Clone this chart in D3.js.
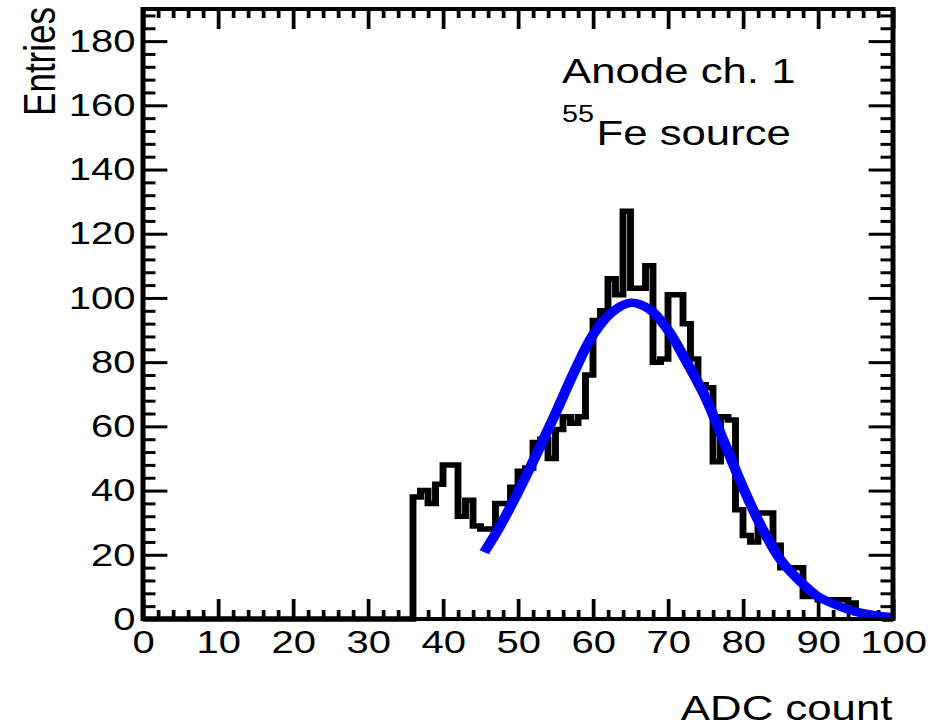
<!DOCTYPE html>
<html>
<head>
<meta charset="utf-8">
<script src="https://cdn.jsdelivr.net/npm/d3@7"></script>
<style>
  body { margin: 0; background: #fff; }
  svg { display: block; }
  text { font-family: "Liberation Sans", Arial, Helvetica, sans-serif; fill: #000; }
</style>
</head>
<body>
<svg id="chart" width="936" height="728"></svg>
<script>
// histogram, 1 ADC count per bin, bins 0..99
var counts = [
  0, 0, 0, 0, 0, 0, 0, 0, 0, 0,
  0, 0, 0, 0, 0, 0, 0, 0, 0, 0,
  0, 0, 0, 0, 0, 0, 0, 0, 0, 0,
  0, 0, 0, 0, 0, 0, 38, 40, 36, 42,
  48, 48, 32, 37, 29, 28, 28, 36, 36, 41,
  46, 47, 55, 56, 50, 59, 63, 61, 63, 76,
  93, 96, 106, 101, 127, 103, 103, 110, 80, 81,
  101, 101, 92, 81, 73, 72, 49, 63, 62, 34,
  26, 24, 33, 33, 23, 16, 16, 16, 7, 7,
  6, 6, 6, 6, 5, 2, 1, 1, 1, 0
];

// fit curve
var fitX = [45.5, 47.5, 50, 52.5, 55, 57.5, 60, 62.5, 65, 67.5, 70, 72.5, 75, 77.5, 80, 82.5, 85, 87.5, 90, 92.5, 95, 97.5, 100];
var fitY = [20.8, 28.5, 39.5, 51.5, 64, 77, 88.5, 95.5, 98.5, 96.5, 90, 80, 69, 55, 41, 28.5, 18.5, 12, 7, 4.3, 2.3, 1.2, 0.6];

var xTicks = [0, 10, 20, 30, 40, 50, 60, 70, 80, 90, 100];
var yTicks = [0, 20, 40, 60, 80, 100, 120, 140, 160, 180];
var xMinor = [2, 4, 6, 8, 12, 14, 16, 18, 22, 24, 26, 28, 32, 34, 36, 38, 42, 44, 46, 48,
              52, 54, 56, 58, 62, 64, 66, 68, 72, 74, 76, 78, 82, 84, 86, 88, 92, 94, 96, 98];
var yMinor = [4, 8, 12, 16, 24, 28, 32, 36, 44, 48, 52, 56, 64, 68, 72, 76, 84, 88, 92, 96,
              104, 108, 112, 116, 124, 128, 132, 136, 144, 148, 152, 156, 164, 168, 172, 176, 184, 188];

var xMin = 0, xMax = 100, yMax = 190;

// the picture is stretched sideways, so draw everything in a squeezed group
var sx = 1.25;
var frameL = 143 / sx, frameR = 893 / sx, frameT = 9, frameB = 619;

var svg = d3.select('#chart');
var g = svg.append('g').attr('transform', 'scale(' + sx + ',1)');

var x = d3.scaleLinear().domain([xMin, xMax]).range([frameL, frameR]);
var y = d3.scaleLinear().domain([0, yMax]).range([frameB, frameT]);

function styleAxis(sel, fontSize) {
  sel.select('.domain').remove();
  sel.selectAll('line').attr('stroke', '#000').attr('stroke-width', 3);
  sel.selectAll('text')
    .attr('font-size', fontSize)
    .attr('font-family', '"Liberation Sans", Arial, Helvetica, sans-serif')
    .attr('fill', '#000');
  sel.attr('font-size', null).attr('font-family', null);
}

// bottom
g.append('g').attr('transform', 'translate(0,' + frameB + ')')
  .call(d3.axisBottom(x).tickValues(xTicks).tickSize(-20).tickPadding(11).tickFormat(d3.format('d')))
  .call(styleAxis, 32);
g.append('g').attr('transform', 'translate(0,' + frameB + ')')
  .call(d3.axisBottom(x).tickValues(xMinor).tickSize(-9).tickFormat(''))
  .call(styleAxis, 0);
// top
g.append('g').attr('transform', 'translate(0,' + frameT + ')')
  .call(d3.axisTop(x).tickValues(xTicks).tickSize(-20).tickFormat(''))
  .call(styleAxis, 0);
g.append('g').attr('transform', 'translate(0,' + frameT + ')')
  .call(d3.axisTop(x).tickValues(xMinor).tickSize(-9).tickFormat(''))
  .call(styleAxis, 0);
// left
g.append('g').attr('transform', 'translate(' + frameL + ',0)')
  .call(d3.axisLeft(y).tickValues(yTicks).tickSize(-19.5).tickPadding(6))
  .call(styleAxis, 32);
g.append('g').attr('transform', 'translate(' + frameL + ',0)')
  .call(d3.axisLeft(y).tickValues(yMinor).tickSize(-10).tickFormat(''))
  .call(styleAxis, 0);
// right
g.append('g').attr('transform', 'translate(' + frameR + ',0)')
  .call(d3.axisRight(y).tickValues(yTicks).tickSize(-19.5).tickFormat(''))
  .call(styleAxis, 0);
g.append('g').attr('transform', 'translate(' + frameR + ',0)')
  .call(d3.axisRight(y).tickValues(yMinor).tickSize(-10).tickFormat(''))
  .call(styleAxis, 0);

// histogram outline
var pts = [[xMin, 0]];
counts.forEach(function(c, i) {
  pts.push([i, c]);
  pts.push([i + 1, c]);
});
pts.push([xMax, 0]);

var histLine = d3.line()
  .x(function(d) { return x(d[0]); })
  .y(function(d) { return y(d[1]); });

g.append('path')
  .datum(pts)
  .attr('d', histLine)
  .attr('fill', 'none')
  .attr('stroke', '#000')
  .attr('stroke-width', 5.5)
  .attr('stroke-linejoin', 'miter');

// fit
var fitPts = fitX.map(function(v, i) { return [v, fitY[i]]; });
g.append('path')
  .datum(fitPts)
  .attr('d', d3.line()
    .curve(d3.curveCatmullRom)
    .x(function(d) { return x(d[0]); })
    .y(function(d) { return y(d[1]); }))
  .attr('fill', 'none')
  .attr('stroke', '#0000ff')
  .attr('stroke-width', 8.5);

// frame
g.append('rect')
  .attr('x', frameL).attr('y', frameT)
  .attr('width', frameR - frameL).attr('height', frameB - frameT)
  .attr('fill', 'none')
  .attr('stroke', '#000')
  .attr('stroke-width', 4);

// axis titles
g.append('text')
  .attr('x', frameR - 0.5).attr('y', 720)
  .attr('text-anchor', 'end')
  .attr('font-size', 35)
  .text('ADC count');

g.append('text')
  .attr('transform', 'translate(' + (55 / sx) + ',7) rotate(-90)')
  .attr('text-anchor', 'end')
  .attr('font-size', 35)
  .text('Entries');

// labels
g.append('text')
  .attr('x', 562 / sx).attr('y', 83)
  .attr('font-size', 35)
  .text('Anode ch. 1');

var src = g.append('text')
  .attr('x', 562 / sx).attr('y', 145)
  .attr('font-size', 35);
src.append('tspan').attr('font-size', 23).attr('dy', -23).text('55');
src.append('tspan').attr('dy', 23).attr('dx', 2).text('Fe source');
</script>
</body>
</html>
